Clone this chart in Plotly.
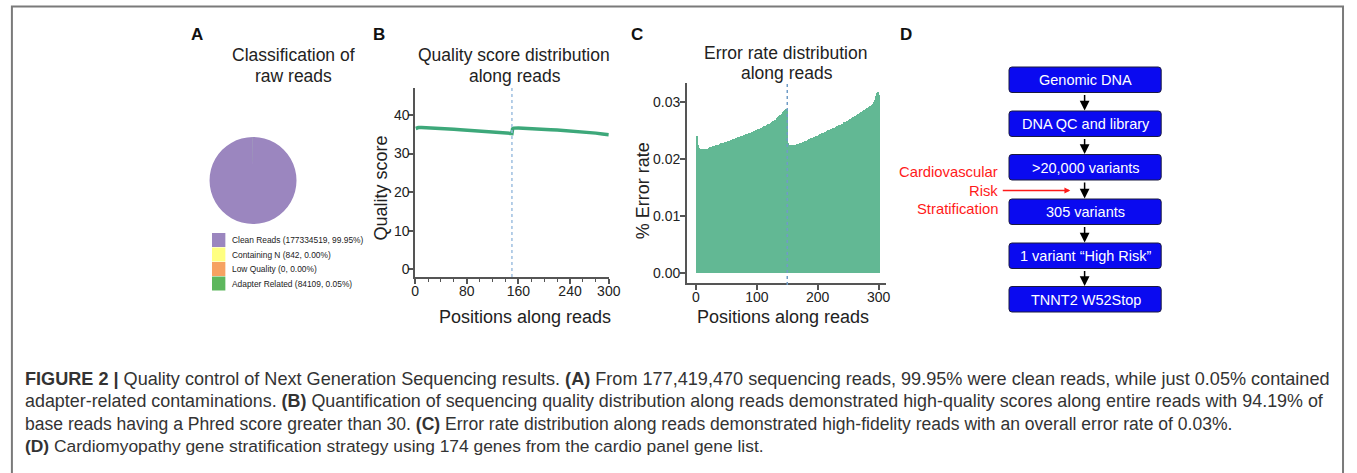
import plotly.graph_objects as go

W, H = 1357, 473
FONT = "Liberation Sans, Arial, Helvetica, sans-serif"

# ---------------- Panel A data ----------------
read_classes = ["Clean Reads", "Containing N", "Low Quality", "Adapter Related"]
read_counts = [177334519, 842, 0, 84109]
read_pcts = ["99.95%", "0.00%", "0.00%", "0.05%"]
class_colors = ["#9B86BF", "#FFFF80", "#F6A262", "#5DB75D"]

# ---------------- Panel B data ----------------
qual_pos = [1, 3, 5, 10, 20, 30, 40, 50, 60, 70, 80, 90, 100, 110, 120, 130, 140, 150,
            151, 153, 160, 170, 180, 190, 200, 210, 220, 230, 240, 250, 260, 270, 280, 290, 300]
qual_score = [36.5, 36.7, 36.75, 36.75, 36.7, 36.6, 36.5, 36.4, 36.3, 36.2, 36.1, 36.0,
              35.9, 35.8, 35.7, 35.6, 35.4, 35.2,
              36.4, 36.6, 36.65, 36.6, 36.5, 36.4, 36.3, 36.2, 36.1, 36.0, 35.85, 35.7,
              35.6, 35.45, 35.3, 35.1, 34.9]
qual_xticks = [0, 80, 160, 240, 300]
qual_yticks = [0, 10, 20, 30, 40]

# ---------------- Panel C data ----------------
err_read1 = [
    0.0240, 0.0231, 0.0225, 0.0221, 0.0219, 0.0218, 0.0218, 0.0217, 0.0218, 0.0217,
    0.0217, 0.0218, 0.0217, 0.0217, 0.0218, 0.0217, 0.0218, 0.0218, 0.0217, 0.0218,
    0.0219, 0.0219, 0.0220, 0.0220, 0.0221, 0.0220, 0.0221, 0.0222, 0.0222, 0.0222,
    0.0223, 0.0223, 0.0224, 0.0223, 0.0224, 0.0225, 0.0225, 0.0225, 0.0226, 0.0226,
    0.0227, 0.0226, 0.0227, 0.0228, 0.0228, 0.0228, 0.0229, 0.0229, 0.0230, 0.0229,
    0.0230, 0.0231, 0.0231, 0.0231, 0.0232, 0.0232, 0.0233, 0.0232, 0.0233, 0.0234,
    0.0234, 0.0235, 0.0235, 0.0235, 0.0236, 0.0236, 0.0237, 0.0237, 0.0238, 0.0237,
    0.0238, 0.0239, 0.0239, 0.0240, 0.0239, 0.0240, 0.0241, 0.0241, 0.0242, 0.0242,
    0.0243, 0.0242, 0.0243, 0.0244, 0.0244, 0.0245, 0.0244, 0.0246, 0.0245, 0.0246,
    0.0247, 0.0246, 0.0248, 0.0247, 0.0249, 0.0248, 0.0249, 0.0250, 0.0249, 0.0251,
    0.0250, 0.0252, 0.0251, 0.0253, 0.0252, 0.0254, 0.0253, 0.0255, 0.0254, 0.0256,
    0.0255, 0.0257, 0.0256, 0.0258, 0.0257, 0.0259, 0.0258, 0.0261, 0.0259, 0.0262,
    0.0260, 0.0263, 0.0262, 0.0264, 0.0263, 0.0266, 0.0264, 0.0267, 0.0266, 0.0268,
    0.0268, 0.0271, 0.0270, 0.0273, 0.0272, 0.0276, 0.0274, 0.0277, 0.0276, 0.0279,
    0.0279, 0.0282, 0.0280, 0.0284, 0.0283, 0.0286, 0.0285, 0.0288, 0.0286, 0.0290,
]
err_read2 = [
    0.0228, 0.0226, 0.0225, 0.0225, 0.0224, 0.0225, 0.0224, 0.0224, 0.0225, 0.0224,
    0.0225, 0.0225, 0.0224, 0.0225, 0.0225, 0.0226, 0.0225, 0.0226, 0.0226, 0.0227,
    0.0227, 0.0228, 0.0227, 0.0228, 0.0229, 0.0229, 0.0230, 0.0230, 0.0231, 0.0231,
    0.0232, 0.0232, 0.0233, 0.0233, 0.0234, 0.0234, 0.0235, 0.0235, 0.0236, 0.0236,
    0.0237, 0.0237, 0.0238, 0.0238, 0.0239, 0.0239, 0.0240, 0.0240, 0.0241, 0.0241,
    0.0242, 0.0242, 0.0243, 0.0243, 0.0244, 0.0244, 0.0245, 0.0245, 0.0246, 0.0246,
    0.0247, 0.0247, 0.0248, 0.0248, 0.0249, 0.0249, 0.0250, 0.0250, 0.0251, 0.0251,
    0.0252, 0.0251, 0.0253, 0.0252, 0.0254, 0.0253, 0.0255, 0.0254, 0.0256, 0.0255,
    0.0257, 0.0256, 0.0258, 0.0257, 0.0259, 0.0258, 0.0260, 0.0259, 0.0261, 0.0261,
    0.0262, 0.0262, 0.0264, 0.0263, 0.0265, 0.0264, 0.0266, 0.0265, 0.0267, 0.0267,
    0.0268, 0.0268, 0.0270, 0.0269, 0.0271, 0.0270, 0.0272, 0.0273, 0.0272, 0.0274,
    0.0275, 0.0274, 0.0276, 0.0277, 0.0276, 0.0278, 0.0279, 0.0278, 0.0280, 0.0281,
    0.0282, 0.0281, 0.0283, 0.0284, 0.0283, 0.0285, 0.0286, 0.0285, 0.0287, 0.0288,
    0.0289, 0.0288, 0.0291, 0.0290, 0.0292, 0.0293, 0.0292, 0.0295, 0.0294, 0.0297,
    0.0296, 0.0300, 0.0298, 0.0303, 0.0306, 0.0310, 0.0316, 0.0308, 0.0318, 0.0312,
]
err_xticks = [0, 100, 200, 300]
err_yticks = [0.00, 0.01, 0.02, 0.03]
read_split = 150

# ---------------- Panel D data ----------------
flow_steps = ["Genomic DNA", "DNA QC and library", ">20,000 variants",
              "305 variants", "1 variant \u201cHigh Risk\u201d", "TNNT2 W52Stop"]
side_note = ["Cardiovascular", "Risk", "Stratification"]

caption_lines = [
    "<b>FIGURE 2 |</b> Quality control of Next Generation Sequencing results. <b>(A)</b> From 177,419,470 sequencing reads, 99.95% were clean reads, while just 0.05% contained",
    "adapter-related contaminations. <b>(B)</b> Quantification of sequencing quality distribution along reads demonstrated high-quality scores along entire reads with 94.19% of",
    "base reads having a Phred score greater than 30. <b>(C)</b> Error rate distribution along reads demonstrated high-fidelity reads with an overall error rate of 0.03%.",
    "<b>(D)</b> Cardiomyopathy gene stratification strategy using 174 genes from the cardio panel gene list.",
]


def X(px):
    return px / W


def Y(py):
    return 1 - py / H


fig = go.Figure()

# Pie (A)
fig.add_trace(go.Pie(
    labels=read_classes, values=read_counts,
    marker=dict(colors=class_colors, line=dict(width=0)),
    textinfo="none", sort=False, direction="clockwise", rotation=0,
    domain=dict(x=[X(208), X(296)], y=[Y(224.5), Y(136.5)]),
    showlegend=False, hoverinfo="label+value+percent",
))

# Quality line (B)
fig.add_trace(go.Scatter(
    x=qual_pos, y=qual_score, mode="lines",
    line=dict(color="#3DA87A", width=3.5),
    xaxis="x", yaxis="y", showlegend=False,
))

# Error bars (C)
err_all = err_read1 + err_read2
err_pos = list(range(1, len(err_all) + 1))
fig.add_trace(go.Bar(
    x=err_pos, y=err_all, width=1,
    marker=dict(color="#62B894", line=dict(width=0)),
    xaxis="x2", yaxis="y2", showlegend=False,
))

axis_common = dict(showline=True, linecolor="#555", linewidth=1.5, ticks="outside",
                   ticklen=5, tickwidth=1.5, tickcolor="#555", showgrid=False,
                   zeroline=False, tickfont=dict(family=FONT, size=14, color="#222"))

fig.update_layout(
    width=W, height=H,
    margin=dict(l=0, r=0, t=0, b=0),
    paper_bgcolor="white", plot_bgcolor="white",
    bargap=0,
    font=dict(family=FONT, color="#222"),
    xaxis=dict(domain=[X(416), X(612)], anchor="y", range=[0, 300],
               tickmode="array", tickvals=qual_xticks, ticklabelstandoff=-5,
               minor=dict(tickmode="linear", tick0=0, dtick=20, ticks="outside",
                          ticklen=3, tickwidth=1, tickcolor="#555"),
               **axis_common),
    yaxis=dict(domain=[Y(277), Y(88)], anchor="x", range=[-2, 47],
               tickmode="array", tickvals=qual_yticks, ticklabelstandoff=-4,
               **axis_common),
    xaxis2=dict(domain=[X(691), X(893)], anchor="y2", range=[-15, 313],
                tickmode="array", tickvals=err_xticks, ticklabelstandoff=-5,
                **axis_common),
    yaxis2=dict(domain=[Y(283), Y(83)], anchor="x2", range=[-0.00175, 0.0333],
                tickmode="array", tickvals=err_yticks, tickformat=".2f",
                ticklabelstandoff=-3, **axis_common),
)

shapes = []
# figure border
shapes.append(dict(type="rect", xref="paper", yref="paper",
                   x0=X(8), x1=X(1355), y0=Y(520), y1=Y(6.5),
                   line=dict(color="#7A7A7A", width=2), fillcolor="rgba(0,0,0,0)"))
# dotted read-split lines
shapes.append(dict(type="line", xref="x", yref="y domain", x0=read_split, x1=read_split,
                   y0=0, y1=1, line=dict(color="#9DBFE0", width=1.5, dash="dot")))
shapes.append(dict(type="line", xref="x2", yref="y2 domain", x0=read_split, x1=read_split,
                   y0=-0.01, y1=1, line=dict(color="#6F9CC6", width=1.5, dash="dot")))

# legend squares (A)
sq_top = [233, 247.5, 262, 276.5]
for i, c in enumerate(class_colors):
    shapes.append(dict(type="rect", xref="paper", yref="paper",
                       x0=X(210.5), x1=X(224), y0=Y(sq_top[i] + 14), y1=Y(sq_top[i]),
                       line=dict(width=0), fillcolor=c))

# flowchart boxes (D)
box_x0, box_x1 = 1017, 1171
box_tops = [67, 111, 154.5, 199, 243, 286.5]
box_h = 25.5
r = 3


def rrect(x0, y0, x1, y1, r):
    return (f"M {X(x0 + r)},{Y(y0)} L {X(x1 - r)},{Y(y0)} Q {X(x1)},{Y(y0)} {X(x1)},{Y(y0 + r)} "
            f"L {X(x1)},{Y(y1 - r)} Q {X(x1)},{Y(y1)} {X(x1 - r)},{Y(y1)} "
            f"L {X(x0 + r)},{Y(y1)} Q {X(x0)},{Y(y1)} {X(x0)},{Y(y1 - r)} "
            f"L {X(x0)},{Y(y0 + r)} Q {X(x0)},{Y(y0)} {X(x0 + r)},{Y(y0)} Z")


for t in box_tops:
    shapes.append(dict(type="path", xref="paper", yref="paper",
                       path=rrect(box_x0, t, box_x1, t + box_h, r),
                       fillcolor="#0A0AF0", line=dict(color="#1A1A40", width=1)))

fig.update_layout(shapes=shapes)

ann = []


def txt(s, x, y, size, color="#222", xanchor="center", yanchor="middle", angle=0,
        bold=False, align="center"):
    if bold:
        s = f"<b>{s}</b>"
    ann.append(dict(text=s, x=X(x), y=Y(y), xref="paper", yref="paper", showarrow=False,
                    xanchor=xanchor, yanchor=yanchor, textangle=angle, align=align,
                    font=dict(family=FONT, size=size, color=color)))


# panel letters
for letter, lx in zip(["A", "B", "C", "D"], [195, 379, 641, 913]):
    txt(letter, lx, 34.5, 17, "#111", bold=True)

# panel titles
txt("Classification of", 293, 55, 17.5)
txt("raw reads", 293, 75.5, 17.5)
txt("Quality score distribution", 516.5, 55, 17.5)
txt("along reads", 517.5, 75.5, 17.5)
txt("Error rate distribution", 790.5, 53, 17.5)
txt("along reads", 792, 73.5, 17.5)

# axis titles
txt("Quality score", 381, 188, 18, angle=-90)
txt("Positions along reads", 527, 317, 18)
txt("% Error rate", 647, 191, 18, angle=-90)
txt("Positions along reads", 788, 317, 18)

# legend texts (A)
for i, name in enumerate(read_classes):
    txt(f"{name} ({read_counts[i]}, {read_pcts[i]})", 229, sq_top[i] + 7, 8.4,
        "#222", xanchor="left")

# flowchart texts & arrows
cx = 1093.5
for i, (t, s) in enumerate(zip(box_tops, flow_steps)):
    txt(s, 1094.5, t + box_h / 2 + 0.5, 14.5, "white")
    if i + 1 < len(box_tops):
        y_tail = t + box_h + 1
        y_head = box_tops[i + 1] - 0.5
        ann.append(dict(text="", x=X(cx), y=Y(y_head), xref="paper", yref="paper",
                        ax=0, ay=-(y_head - y_tail), showarrow=True, arrowhead=2,
                        arrowsize=1.3, arrowwidth=1.5, arrowcolor="black", standoff=0,
                        startstandoff=0))

# red side note
for s, yy in zip(side_note, [172, 190.5, 209]):
    txt(s, 1008, yy, 14.8, "#FF1A1A", xanchor="right")
ann.append(dict(text="", x=X(1079), y=Y(190.5), xref="paper", yref="paper",
                ax=-69, ay=0, showarrow=True, arrowhead=2, arrowsize=0.9,
                arrowwidth=1.3, arrowcolor="#FF1A1A", standoff=0))

# caption (one annotation per line for exact spacing)
for line, yy, fs in zip(caption_lines, [378.5, 401, 423.5, 445.5],
                        [18.1, 17.9, 17.55, 17.4]):
    txt(line, 19, yy, fs, "#333", xanchor="left", align="left")

fig.update_layout(annotations=ann)
fig.write_html(
    "out.html",
    config={"displayModeBar": False},
    post_script=("document.documentElement.style.overflow='hidden';"
                 "document.body.style.overflow='hidden';"
                 "document.body.style.margin='0';"),
)
